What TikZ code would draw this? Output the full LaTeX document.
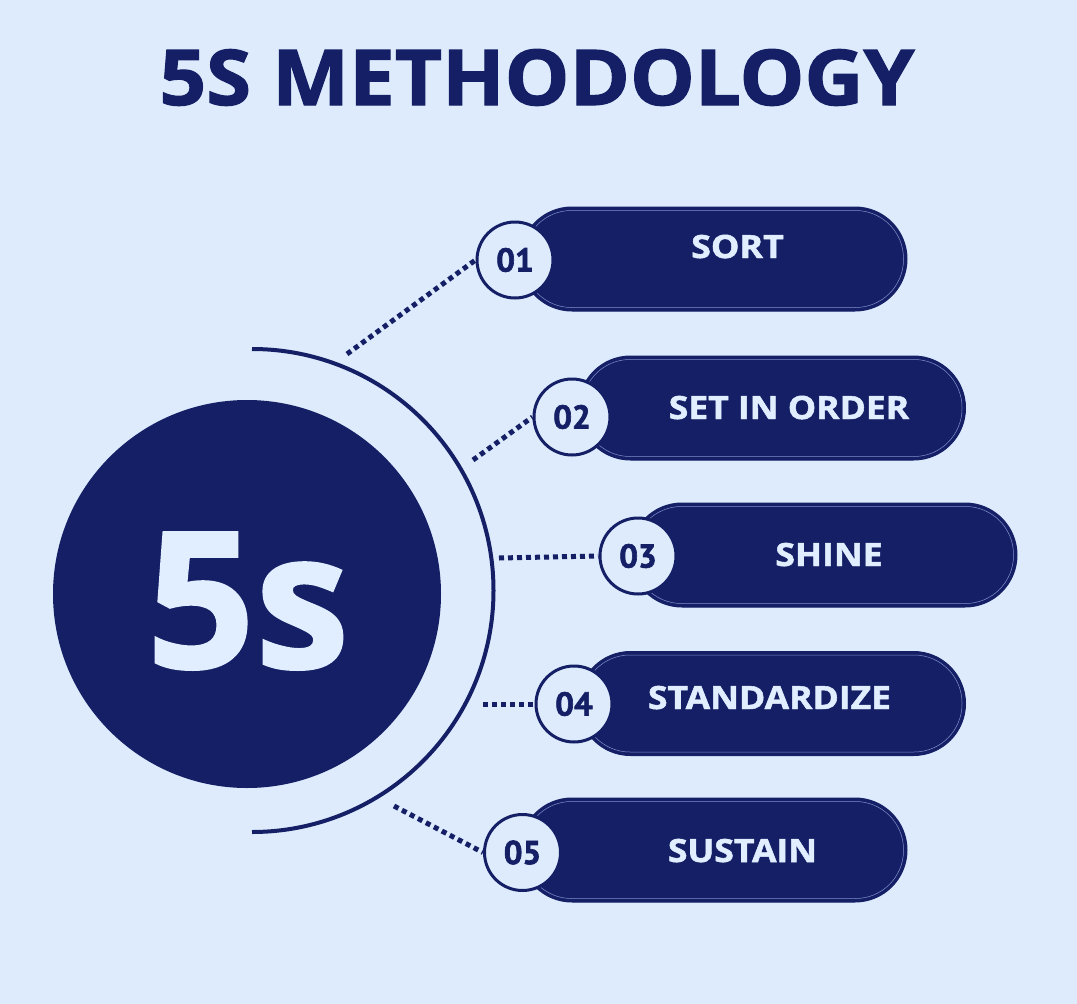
\documentclass[tikz,border=0pt]{standalone}
\usepackage{fontspec}
\usepackage{graphicx}
\setmainfont{Open Sans}
\newfontfamily\numfont{PT Sans}
\newcommand\widen[2]{\scalebox{#1}[1]{#2}}
\definecolor{bgc}{HTML}{DDEBFC}
\definecolor{navy}{HTML}{151F66}
\definecolor{lighttxt}{HTML}{E0EEFF}
\definecolor{rimc}{HTML}{7F8FCC}
\begin{document}
\begin{tikzpicture}[x=1pt,y=-1pt,
  pill/.style={rectangle,rounded corners=52pt,fill=navy,draw=navy,line width=1pt,
    minimum width=387pt,minimum height=104pt,inner sep=0pt},
  pillrim/.style={draw=rimc,line width=0.5pt,rounded corners=48pt},
  numc/.style={circle,fill=bgc,draw=navy,line width=3pt,minimum size=76pt,inner sep=0pt,
    font=\numfont\bfseries\fontsize{33}{33}\selectfont\addfontfeature{FakeBold=2},text=navy},
  lbl/.style={anchor=base,font=\bfseries\fontsize{32}{32}\selectfont\addfontfeature{FakeBold=1.5},text=lighttxt,inner sep=0pt},
  dots/.style={draw=navy,line width=5pt,dash pattern=on 5pt off 4pt}]
\fill[bgc] (0,0) rectangle (1077,1004);
\useasboundingbox (0,0) rectangle (1077,1004);
% title
\node[anchor=base,inner sep=0pt,text=navy,font=\bfseries\fontsize{77}{77}\selectfont\addfontfeature{FakeBold=1.5}] (title) at (537,105) {\widen{1.06}{5S METHODOLOGY}};
% core
\node[circle,fill=navy,minimum size=388pt,inner sep=0pt] (core) at (247,594) {};
\node[anchor=base,inner sep=0pt,text=lighttxt,font=\bfseries\fontsize{190}{190}\selectfont\addfontfeature{FakeBold=1.2}] (coretext) at (248,668) {5s};
\draw[navy,line width=4pt] (252,349) arc[start angle=-90,end angle=90,radius=241.5];
% pills
\node[pill] (p1) at (713.5,259) {};
\node[pill] (p2) at (772,408) {};
\node[pill] (p3) at (823.5,555) {};
\node[pill] (p4) at (772,703.5) {};
\node[pill] (p5) at (713.5,850) {};
\foreach \p in {p1,p2,p3,p4,p5}{
  \draw[pillrim] ([shift={(4,4)}]\p.north west) rectangle ([shift={(-4,-4)}]\p.south east);
}
% labels
\node[lbl] (l1) at (737.5,258) {\widen{1.12}{SORT}};
\node[lbl] (l2) at (789,419) {\widen{1.11}{SET IN ORDER}};
\node[lbl] (l3) at (829,566) {\widen{1.11}{SHINE}};
\node[lbl] (l4) at (769.5,709) {\widen{1.11}{STANDARDIZE}};
\node[lbl] (l5) at (742.5,862) {\widen{1.11}{SUSTAIN}};
% numbers
\node[numc] (n1) at (515,260) {01};
\node[numc] (n2) at (572,417) {02};
\node[numc] (n3) at (638,556) {03};
\node[numc] (n4) at (574,704) {04};
\node[numc] (n5) at (522.5,852.5) {05};
% connector starts
\coordinate (s1) at (347,354);
\coordinate (s2) at (473,460);
\coordinate (s3) at (499,558);
\coordinate (s4) at (483,704);
\coordinate (s5) at (394,806);
\draw[dots] (s1) -- (n1.west);
\draw[dots] (s2) -- (n2.west);
\draw[dots] (s3) -- (n3.west);
\draw[dots] (s4) -- (n4.west);
\draw[dots] (s5) -- (n5.west);
\end{tikzpicture}
\end{document}
